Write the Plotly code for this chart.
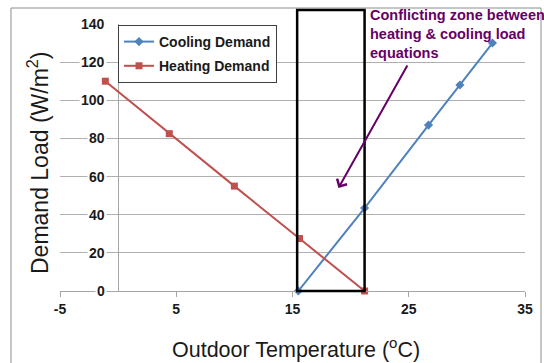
import plotly.graph_objects as go

# ---- data ----
cooling_x = [15.5, 21.2, 26.7, 29.4, 32.2]
cooling_y = [0, 43.5, 87, 108, 130]
heating_x = [-1.1, 4.4, 10.0, 15.6, 21.2]
heating_y = [110, 82.5, 55, 27.5, 0]
x_ticks = [-5, 5, 15, 25, 35]
y_ticks = [0, 20, 40, 60, 80, 100, 120, 140]
zone_x = [15.4, 21.2]
arrow_tail = (24.95, 119)
arrow_tip = (18.95, 54)

W, H = 544, 363
ML, MR, MT, MB = 60, 19, 24, 72
PW, PH = W - ML - MR, H - MT - MB

def px_x(p):
    return (p - ML) / PW

def px_y(p):
    return (H - MB - p) / PH

FONT = "Arial, Liberation Sans, sans-serif"
PURPLE = "#660066"
TXT = "#1A1A1A"

fig = go.Figure()
fig.add_trace(go.Scatter(
    x=cooling_x, y=cooling_y, mode="lines+markers", name="<b>Cooling Demand</b>",
    line=dict(color="#4F81BD", width=2),
    marker=dict(symbol="diamond", size=7, color="#4F81BD"),
    legendgroup="c", cliponaxis=False,
))
fig.add_trace(go.Scatter(
    x=heating_x, y=heating_y, mode="lines+markers", name="<b>Heating Demand</b>",
    line=dict(color="#C0504D", width=2),
    marker=dict(symbol="square", size=7, color="#C0504D"),
    legendgroup="h", cliponaxis=False,
))

annotations = []
for v in y_ticks:
    annotations.append(dict(
        x=px_x(107), y=v, xref="paper", yref="y", xanchor="right", yanchor="middle",
        text=f"<b>{v}</b>", showarrow=False, bgcolor="white", borderpad=1,
        font=dict(family=FONT, size=14, color=TXT),
    ))
annotations.append(dict(
    x=arrow_tip[0], y=arrow_tip[1], xref="x", yref="y",
    ax=arrow_tail[0], ay=arrow_tail[1], axref="x", ayref="y",
    text="", showarrow=True, arrowhead=4, arrowsize=1.1, arrowwidth=2,
    arrowcolor=PURPLE, standoff=0,
))
annotations.append(dict(
    x=px_x(368), y=px_y(5), xref="paper", yref="paper", xanchor="left", yanchor="top",
    align="left", showarrow=False,
    text="<b>Conflicting zone between<br>heating &amp; cooling load<br>equations</b>",
    font=dict(family=FONT, size=14.5, color=PURPLE),
))
# axis titles
annotations.append(dict(
    x=px_x(296), y=px_y(348), xref="paper", yref="paper",
    xanchor="center", yanchor="middle", showarrow=False,
    text="Outdoor Temperature (<sup>o</sup>C)",
    font=dict(family=FONT, size=21.5, color=TXT),
))
annotations.append(dict(
    x=px_x(38), y=px_y(163), xref="paper", yref="paper",
    xanchor="center", yanchor="middle", showarrow=False, textangle=-90,
    text="Demand Load (W/m<sup>2</sup>)",
    font=dict(family=FONT, size=23, color=TXT),
))

shapes = [
    dict(type="rect", xref="paper", yref="paper",
         x0=px_x(11), x1=px_x(541), y0=px_y(380), y1=px_y(8),
         line=dict(color="#8C8C8C", width=1), layer="below"),
    dict(type="rect", xref="x", yref="paper",
         x0=zone_x[0], x1=zone_x[1], y0=0, y1=px_y(10),
         line=dict(color="black", width=2.5)),
]

fig.update_layout(
    width=W, height=H,
    margin=dict(l=ML, r=MR, t=MT, b=MB),
    paper_bgcolor="white", plot_bgcolor="white",
    font=dict(family=FONT, color=TXT),
    showlegend=True,
    legend=dict(
        x=px_x(118), y=px_y(25), xanchor="left", yanchor="top",
        bordercolor="#404040", borderwidth=1, bgcolor="white",
        font=dict(family=FONT, size=14, color=TXT),
        tracegroupgap=3, itemwidth=30,
    ),
    annotations=annotations,
    shapes=shapes,
)
fig.update_xaxes(
    range=[-5, 35], tickvals=x_ticks, ticktext=[f"<b>{v}</b>" for v in x_ticks],
    showgrid=False, zeroline=True, zerolinecolor="#A6A6A6", zerolinewidth=1,
    showline=True, linecolor="#A6A6A6", linewidth=1,
    ticks="outside", ticklen=5, tickcolor="#A6A6A6",
    tickfont=dict(family=FONT, size=14, color=TXT),
)
fig.update_yaxes(
    range=[0, 140], tickvals=y_ticks, showticklabels=False,
    showgrid=True, gridcolor="#B0B0B0", gridwidth=1, zeroline=False,
    showline=False, ticks="",
)

fig.write_html("out.html")
